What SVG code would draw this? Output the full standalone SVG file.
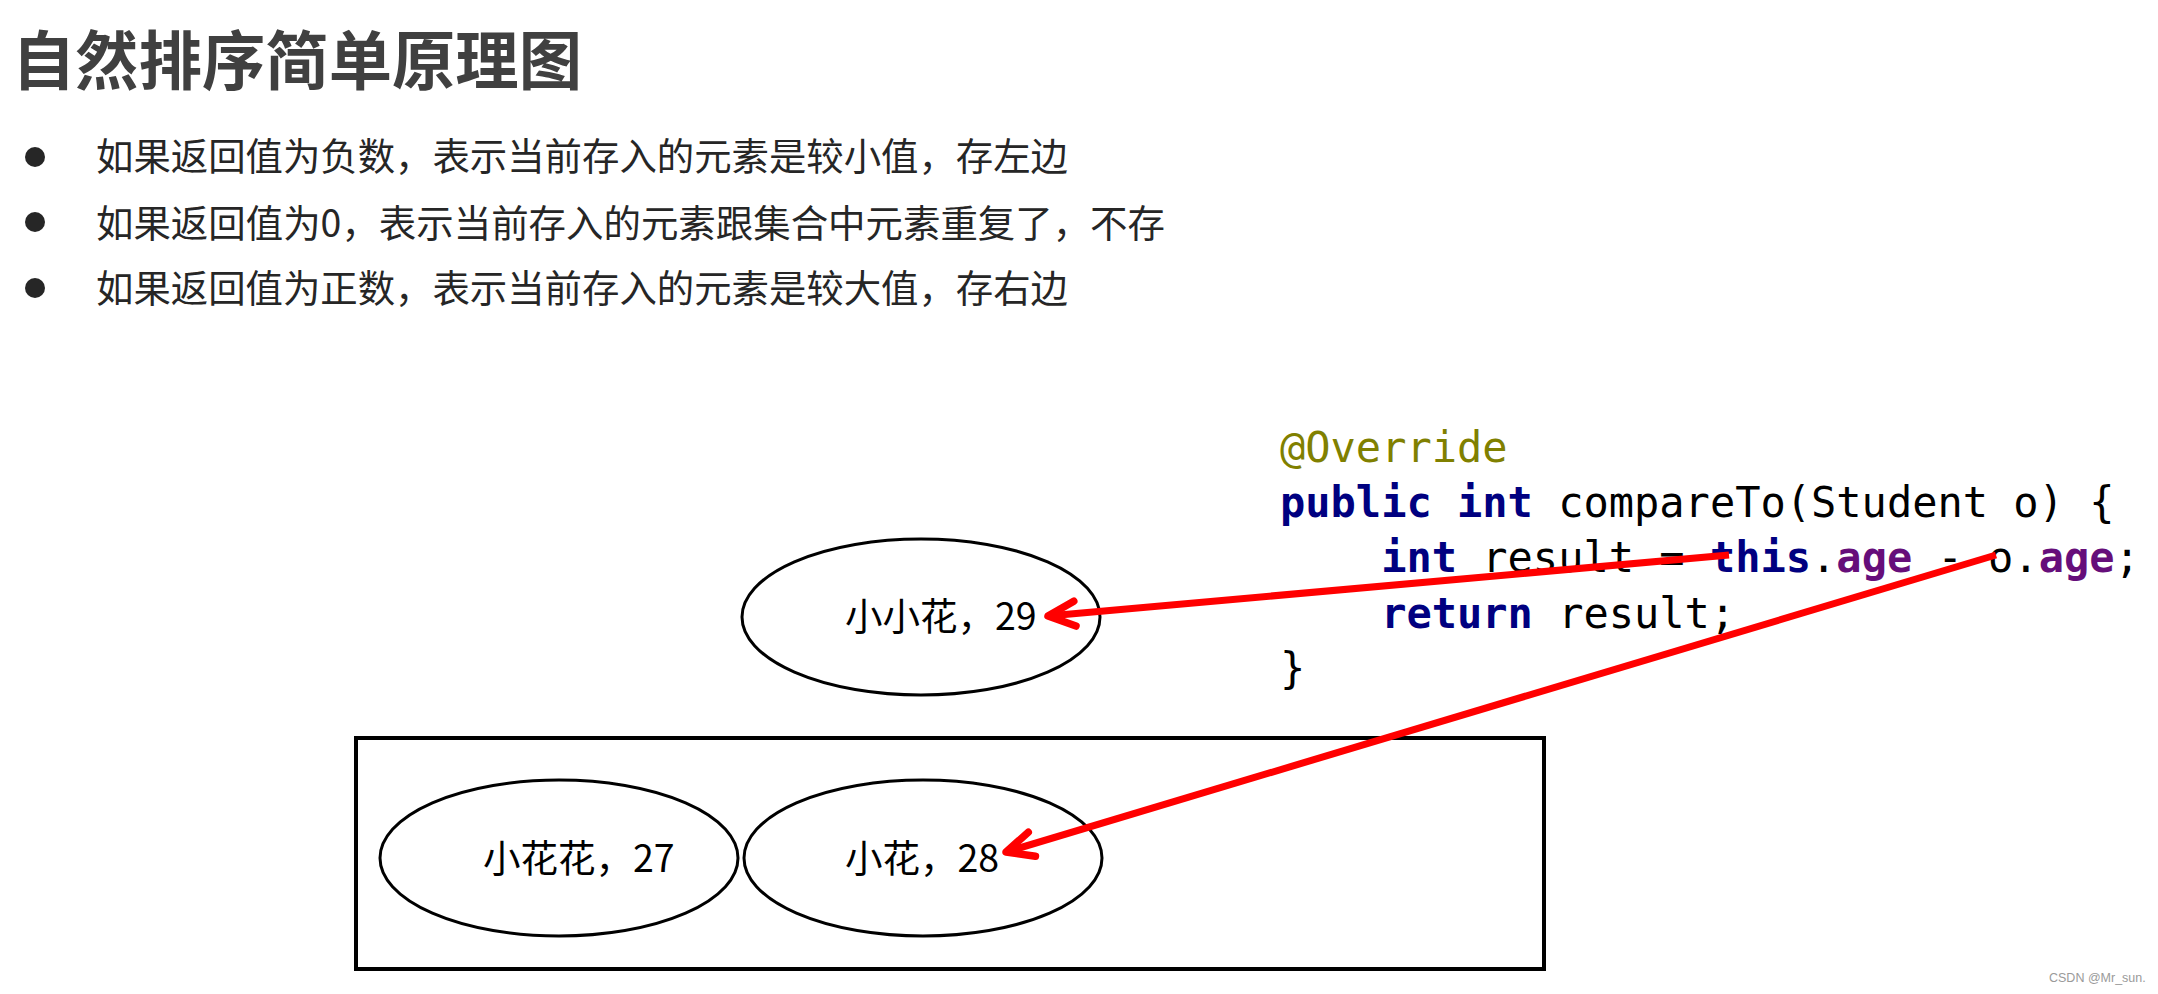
<svg xmlns="http://www.w3.org/2000/svg" width="2158" height="994" viewBox="0 0 2158 994">
<style>
.title{font-family:"Noto Sans CJK SC","Liberation Sans",sans-serif;font-weight:bold;font-size:64px;fill:#404040}
.bullet-text{font-family:"Noto Sans CJK SC","Liberation Sans",sans-serif;font-size:37.5px;fill:#262626}
.dot{fill:#262626}
.code{font-family:"DejaVu Sans Mono","Liberation Mono",monospace;font-size:42px;fill:#000000}
.kw{fill:#000080;font-weight:bold}
.ann{fill:#808000}
.fld{fill:#660E7A;font-weight:bold}
.node-shape{fill:#ffffff;stroke:#000000;stroke-width:3}
.node-label{font-family:"Noto Sans CJK SC","Liberation Sans",sans-serif;font-size:37.5px;fill:#000000}
.box{fill:none;stroke:#000000;stroke-width:4}
.conn{fill:none;stroke:#ff0000;stroke-width:7;stroke-linecap:butt}
.mark{font-family:"Liberation Sans",Arial,sans-serif;font-size:12.5px;fill:#9a9a9a}
</style>
<defs>
<marker id="arrow" markerUnits="userSpaceOnUse" viewBox="-34 -18 40 36" refX="0" refY="0" markerWidth="40" markerHeight="36" orient="auto" overflow="visible">
<path d="M -27 -12.5 L 0 0 L -27 12.5" fill="none" stroke="#ff0000" stroke-width="7.5" stroke-linecap="round" stroke-linejoin="round"/>
</marker>
</defs>
<rect x="0" y="0" width="2158" height="994" fill="#ffffff"/>

<g id="title">
<text class="title" x="12" y="84" textLength="570" lengthAdjust="spacingAndGlyphs">自然排序简单原理图</text>
</g>

<g id="bullets">
<circle class="dot" cx="35" cy="157" r="10"/>
<text class="bullet-text" x="96" y="170" textLength="972" lengthAdjust="spacingAndGlyphs">如果返回值为负数，表示当前存入的元素是较小值，存左边</text>
<circle class="dot" cx="35" cy="222" r="10"/>
<text class="bullet-text" x="96" y="237" textLength="1069" lengthAdjust="spacingAndGlyphs">如果返回值为0，表示当前存入的元素跟集合中元素重复了，不存</text>
<circle class="dot" cx="35" cy="288" r="10"/>
<text class="bullet-text" x="96" y="302" textLength="972" lengthAdjust="spacingAndGlyphs">如果返回值为正数，表示当前存入的元素是较大值，存右边</text>
</g>

<g id="code">
<text class="code" x="1280" y="462" xml:space="preserve"><tspan class="ann">@Override</tspan></text>
<text class="code" x="1280" y="517" xml:space="preserve"><tspan class="kw">public</tspan> <tspan class="kw">int</tspan> compareTo(Student o) {</text>
<text class="code" x="1280" y="572" xml:space="preserve">    <tspan class="kw">int</tspan> result = <tspan class="kw">this</tspan>.<tspan class="fld">age</tspan> - o.<tspan class="fld">age</tspan>;</text>
<text class="code" x="1280" y="628" xml:space="preserve">    <tspan class="kw">return</tspan> result;</text>
<text class="code" x="1280" y="683" xml:space="preserve">}</text>
</g>

<g id="tree-box">
<rect class="box" x="356" y="738" width="1188" height="231"/>
</g>

<g id="node-29">
<ellipse class="node-shape" cx="921" cy="617" rx="179" ry="78"/>
<text class="node-label" x="845" y="630">小小花，29</text>
</g>

<g id="node-27">
<ellipse class="node-shape" cx="559" cy="858" rx="179" ry="78"/>
<text class="node-label" x="483" y="872">小花花，27</text>
</g>

<g id="node-28">
<ellipse class="node-shape" cx="923" cy="858" rx="179" ry="78"/>
<text class="node-label" x="845" y="872">小花，28</text>
</g>

<g id="connectors">
<line class="conn" x1="1729" y1="555" x2="1048" y2="616" marker-end="url(#arrow)"/>
<line class="conn" x1="1996" y1="555" x2="1006" y2="852" marker-end="url(#arrow)"/>
</g>

<g id="watermark">
<text class="mark" x="2049" y="982">CSDN @Mr_sun.</text>
</g>
</svg>
